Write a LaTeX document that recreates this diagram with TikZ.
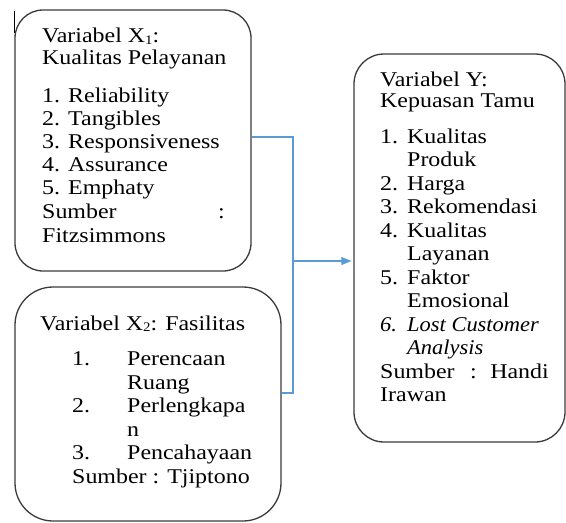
\documentclass[tikz,border=0pt]{standalone}
\usepackage{fontspec}
\setmainfont[FakeStretch=1.14]{Liberation Serif}
\newfontfamily\yital[FakeStretch=1.07]{Liberation Serif Italic}
\usetikzlibrary{arrows.meta}
\definecolor{linkblue}{HTML}{5B9BD5}
\definecolor{boxline}{HTML}{3A3A3A}
\newcommand\mysubidx[1]{\raisebox{-1.5pt}{\fontsize{13}{13}\selectfont #1}}
\tikzset{
  box/.style={draw=boxline, line width=1.3pt, rectangle, fill=none, inner sep=0pt},
  txt/.style={anchor=base west, inner sep=0pt, font=\fontsize{21}{21}\selectfont, text=black},
  conn/.style={draw=linkblue, line width=1.1pt},
  arr/.style={conn, -{Triangle[length=10pt,width=8pt]}}
}
\begin{document}
\begin{tikzpicture}[x=1pt,y=-1pt]
\useasboundingbox (0,0) rectangle (566,523);
% boxes
\node[box, rounded corners=28pt, minimum width=236pt, minimum height=261pt] (b1) at (133,140.5) {};
\node[box, rounded corners=38pt, minimum width=266pt, minimum height=234pt] (b2) at (148,404) {};
\node[box, rounded corners=30pt, minimum width=211pt, minimum height=388pt] (bY) at (459.5,248) {};
% cursor mark
\draw[line width=1.3pt, black] (14.6,11) -- (14.6,33);
% connectors
\coordinate (j1) at (293,137);
\coordinate (j2) at (293,393);
\coordinate (jm) at (293,261);
\draw[conn] (b1.east |- j1) -- (j1) -- (j2) -- (b2.east |- j2);
\draw[arr, shorten >=2pt] (jm) -- (bY.west |- jm);
% box 1 text
\node[txt] (a1) at (42,42.5) {Variabel X\mysubidx{1}:};
\node[txt] (a2) at (42,64) {Kualitas Pelayanan};
\node[txt] (a3n) at (42,102.5) {1.};
\node[txt] (a3) at (68,102.5) {Reliability};
\node[txt] (a4n) at (42,125.5) {2.};
\node[txt] (a4) at (68,125.5) {Tangibles};
\node[txt] (a5n) at (42,148.5) {3.};
\node[txt] (a5) at (68,148.5) {Responsiveness};
\node[txt] (a6n) at (42,171.5) {4.};
\node[txt] (a6) at (68,171.5) {Assurance};
\node[txt] (a7n) at (42,194.5) {5.};
\node[txt] (a7) at (68,194.5) {Emphaty};
\node[txt] (a8) at (42,218.5) {Sumber};
\node[txt] (a8c) at (218,218.5) {:};
\node[txt] (a9) at (42,242) {Fitzsimmons};
% box 2 text
\node[txt] (c1) at (40,330) {Variabel X\mysubidx{2}: Fasilitas};
\node[txt] (c2n) at (72,365.5) {1.};
\node[txt] (c2) at (127,365.5) {Perencaan};
\node[txt] (c3) at (127,389) {Ruang};
\node[txt] (c4n) at (72,412.5) {2.};
\node[txt] (c4) at (127,412.5) {Perlengkapa};
\node[txt] (c5) at (127,436) {n};
\node[txt] (c6n) at (72,459.5) {3.};
\node[txt] (c6) at (127,459.5) {Pencahayaan};
\node[txt] (c7) at (72,483) {Sumber : Tjiptono};
% box Y text
\node[txt] (y1) at (380,86) {Variabel Y:};
\node[txt] (y2) at (380,107) {Kepuasan Tamu};
\node[txt] (y3n) at (380,143) {1.};
\node[txt] (y3) at (407,143) {Kualitas};
\node[txt] (y4) at (407,166.5) {Produk};
\node[txt] (y5n) at (380,190) {2.};
\node[txt] (y5) at (407,190) {Harga};
\node[txt] (y6n) at (380,213.5) {3.};
\node[txt] (y6) at (407,213.5) {Rekomendasi};
\node[txt] (y7n) at (380,237) {4.};
\node[txt] (y7) at (407,237) {Kualitas};
\node[txt] (y8) at (407,260.5) {Layanan};
\node[txt] (y9n) at (380,284) {5.};
\node[txt] (y9) at (407,284) {Faktor};
\node[txt] (y10) at (407,307.5) {Emosional};
\node[txt] (y11n) at (380,331) {\yital 6.};
\node[txt] (y11) at (407,331) {\yital Lost Customer};
\node[txt] (y12) at (407,354.5) {\yital Analysis};
\node[txt] (y13) at (380,378) {Sumber};
\node[txt] (y13c) at (470,378) {:};
\node[txt, anchor=base east] (y13h) at (549,378) {Handi};
\node[txt] (y14) at (380,401.5) {Irawan};
\end{tikzpicture}
\end{document}
